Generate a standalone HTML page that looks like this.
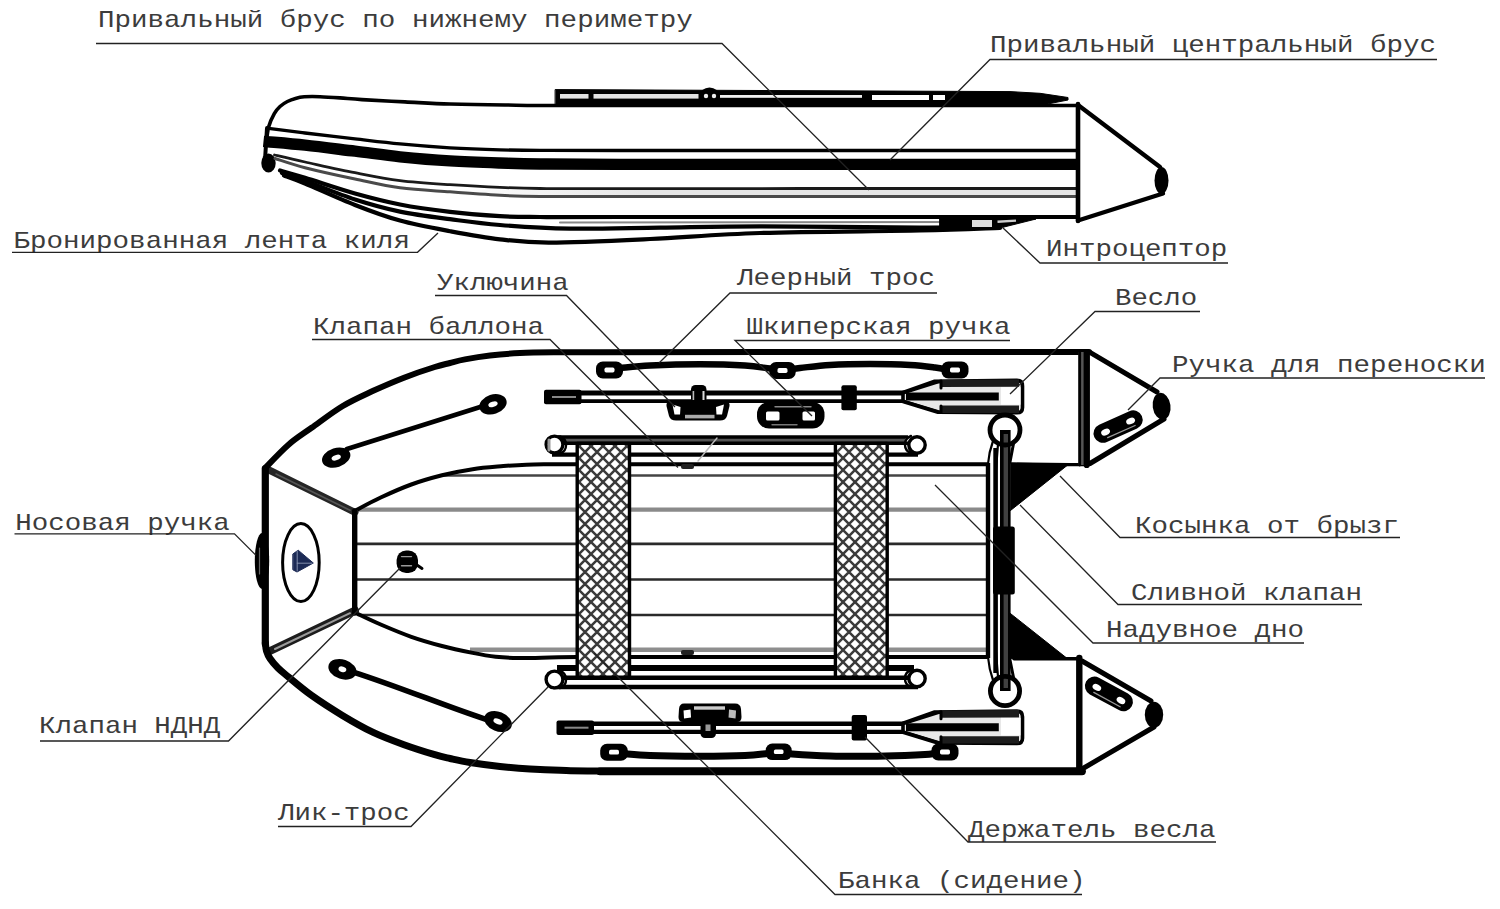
<!DOCTYPE html>
<html lang="ru"><head><meta charset="utf-8"><title>Схема лодки</title>
<style>
html,body{margin:0;padding:0;background:#fff;}
body{width:1500px;height:909px;overflow:hidden;}
svg{display:block;}
</style></head><body>
<svg width="1500" height="909" viewBox="0 0 1500 909">
<defs>
<pattern id="hatch" width="12" height="12" patternUnits="userSpaceOnUse" x="579" y="446">
<rect width="12" height="12" fill="#fff"/>
<path d="M-1,-1 L13,13 M13,-1 L-1,13" stroke="#3a3a3a" stroke-width="2.5" fill="none"/>
</pattern>
<linearGradient id="abfill" gradientUnits="userSpaceOnUse" x1="450" y1="0" x2="640" y2="0"><stop offset="0" stop-color="#fff"/><stop offset="1" stop-color="#e6e6e6"/></linearGradient>
</defs>
<rect width="1500" height="909" fill="#fff"/>
<g id="sideview" fill="none" stroke="#000" stroke-linecap="round" stroke-linejoin="round">
<path d="M266.0,145.0 C266.4,142.0 267.3,132.0 268.7,126.8 C270.1,121.6 272.4,117.1 274.3,113.7 C276.2,110.3 277.8,108.5 280.0,106.5 C282.2,104.5 284.8,102.8 287.4,101.5 C290.0,100.2 292.7,99.2 295.5,98.4 C298.3,97.6 300.2,97.1 304.3,96.8 C308.4,96.5 314.1,96.5 320.0,96.7 C325.9,96.9 333.0,97.4 340.0,97.9 C347.0,98.4 351.2,98.9 362.0,99.6 C372.8,100.3 390.3,101.2 405.0,101.9 C419.7,102.6 433.3,103.5 450.0,104.0 C466.7,104.5 486.7,104.8 505.0,105.0 C523.3,105.2 510.8,105.4 560.0,105.5 C609.2,105.6 713.7,105.5 800.0,105.5 C886.3,105.5 1031.7,105.5 1078.0,105.5" stroke="#000" stroke-width="3.6" stroke-linecap="round"/>
<path d="M270.5,128.7 C276.2,129.4 290.9,131.3 305.0,133.0 C319.1,134.7 339.2,137.1 355.0,138.9 C370.8,140.7 384.2,142.4 400.0,143.9 C415.8,145.4 433.3,146.8 450.0,147.8 C466.7,148.8 485.0,149.4 500.0,149.8 C515.0,150.2 520.0,150.3 540.0,150.4 C560.0,150.5 576.7,150.5 620.0,150.5 C663.3,150.5 723.7,150.5 800.0,150.5 C876.3,150.5 1031.7,150.5 1078.0,150.5" stroke="#000" stroke-width="3.3" stroke-linecap="round"/>
<path d="M263.5,141.3 C270.4,142.0 289.8,143.5 305.0,145.2 C320.2,146.8 339.2,149.3 355.0,151.2 C370.8,153.1 384.2,155.2 400.0,156.8 C415.8,158.4 433.3,159.9 450.0,160.9 C466.7,161.9 485.0,162.5 500.0,163.0 C515.0,163.5 520.0,163.8 540.0,164.0 C560.0,164.2 576.7,164.3 620.0,164.4 C663.3,164.5 723.7,164.4 800.0,164.4 C876.3,164.4 1031.7,164.4 1078.0,164.4" stroke="#000" stroke-width="11.4" stroke-linecap="butt"/>
<ellipse cx="268.5" cy="163" rx="7.2" ry="9.5" fill="#000" stroke="none"/>
<path d="M267,128 L265,160" stroke-width="4"/>
<rect x="450" y="189.5" width="628" height="6.5" fill="url(#abfill)" stroke="none"/>
<path d="M274.5,155.0 C279.6,156.2 291.6,159.1 305.0,162.0 C318.4,164.9 339.2,169.6 355.0,172.7 C370.8,175.8 384.2,178.6 400.0,180.6 C415.8,182.6 433.3,183.6 450.0,184.7 C466.7,185.8 485.0,186.8 500.0,187.4 C515.0,188.0 520.0,188.3 540.0,188.5 C560.0,188.7 576.7,188.7 620.0,188.7 C663.3,188.7 723.7,188.5 800.0,188.5 C876.3,188.5 1031.7,188.5 1078.0,188.5" stroke="#1a1a1a" stroke-width="2.8" stroke-linecap="round"/>
<path d="M275.0,158.5 C280.0,160.0 291.7,164.3 305.0,167.7 C318.3,171.1 339.2,175.7 355.0,179.0 C370.8,182.3 384.2,185.7 400.0,187.8 C415.8,189.9 433.3,190.6 450.0,191.8 C466.7,193.1 485.0,194.5 500.0,195.3 C515.0,196.1 520.0,196.2 540.0,196.4 C560.0,196.6 576.7,196.5 620.0,196.5 C663.3,196.5 723.7,196.6 800.0,196.6 C876.3,196.6 1031.7,196.6 1078.0,196.6" stroke="#4a4a4a" stroke-width="3" stroke-linecap="round"/>
<path d="M280.0,170.5 C284.2,171.7 292.5,174.0 305.0,177.8 C317.5,181.6 339.2,189.1 355.0,193.5 C370.8,197.9 384.2,201.4 400.0,204.5 C415.8,207.6 433.3,209.9 450.0,211.8 C466.7,213.8 485.0,215.3 500.0,216.2 C515.0,217.1 520.0,216.9 540.0,217.0 C560.0,217.1 576.7,217.0 620.0,217.0 C663.3,217.0 723.7,217.0 800.0,217.0 C876.3,217.0 1031.7,217.0 1078.0,217.0" stroke="#000" stroke-width="4.2" stroke-linecap="round"/>
<path d="M560,222.5 L970,222" stroke="#888" stroke-width="2"/>
<path d="M282.0,173.0 C285.8,174.3 292.8,176.4 305.0,180.8 C317.2,185.2 339.2,194.4 355.0,199.5 C370.8,204.6 384.2,208.3 400.0,211.6 C415.8,214.9 433.3,217.0 450.0,219.2 C466.7,221.4 480.0,223.4 500.0,225.0 C520.0,226.6 543.3,228.2 570.0,228.6 C596.7,229.0 628.3,228.0 660.0,227.6 C691.7,227.2 716.7,226.3 760.0,226.3 C803.3,226.3 880.0,227.4 920.0,227.5 C960.0,227.6 986.7,227.1 1000.0,227.0" stroke="#000" stroke-width="4.2" stroke-linecap="round"/>
<path d="M284.0,175.5 C287.5,176.8 293.2,178.6 305.0,183.5 C316.8,188.4 339.2,198.8 355.0,205.0 C370.8,211.2 384.2,216.2 400.0,220.6 C415.8,225.0 433.3,228.1 450.0,231.2 C466.7,234.3 483.3,237.4 500.0,239.3 C516.7,241.2 525.0,242.7 550.0,242.6 C575.0,242.5 615.0,240.6 650.0,239.0 C685.0,237.4 715.0,234.4 760.0,233.0 C805.0,231.6 880.0,231.3 920.0,230.5 C960.0,229.7 986.7,228.4 1000.0,228.0" stroke="#000" stroke-width="4.2" stroke-linecap="round"/>
<path d="M940,219 L1036,219 L1000,228 L940,231 Z" fill="#000" stroke-width="1"/>
<rect x="972" y="220" width="20" height="7" fill="#ddd" stroke="none"/>
<path d="M997.5,221.8 L1016,220.6" stroke="#ccc" stroke-width="2.4" stroke-linecap="butt"/>
<path d="M1078,104 L1078,221" stroke-width="4.6"/>
<path d="M1078,105 L1160,167 M1078,220.5 L1163,193.5" stroke-width="4.4"/>
<ellipse cx="1161.5" cy="180.5" rx="7" ry="13.5" fill="#000" stroke="none"/>
<path d="M555.5,89.6 L1010,91.6 L1040,93.3 L1068,97.5 L1068,100 L1045,104.5 L555.5,104.5 Z" fill="#000" stroke-width="1"/>
<rect x="560" y="94" width="28.5" height="4.6" fill="#e2e2e2" stroke="none"/>
<rect x="593.5" y="94" width="105" height="4.6" fill="#e2e2e2" stroke="none"/>
<rect x="720" y="95" width="142" height="2.8" fill="#f0f0f0" stroke="none"/>
<rect x="872" y="95" width="57" height="5" fill="#fff" stroke="none"/>
<rect x="933" y="95" width="12" height="5" fill="#fff" stroke="none"/>
<ellipse cx="709.5" cy="96" rx="10" ry="8.6" fill="#000" stroke="none"/>
<circle cx="706" cy="96" r="2.2" fill="#eee" stroke="none"/><circle cx="714" cy="96" r="2.2" fill="#eee" stroke="none"/>
</g>
<g id="topview" fill="none" stroke="#000" stroke-linecap="round" stroke-linejoin="round">
<path d="M444,475.5 L988,475.5" stroke="#444" stroke-width="2.4"/>
<path d="M358,509.6 L988,509.6" stroke="#8a8a8a" stroke-width="4.4" stroke-linecap="butt"/>
<path d="M356,543.9 L988,543.9 M356,579.5 L988,579.5 M358,615 L988,615" stroke="#2a2a2a" stroke-width="2.6"/>
<path d="M470,649.8 L988,649.8" stroke="#8e8e8e" stroke-width="4.6" stroke-linecap="butt"/>
<path d="M355.5,510.5 C359.7,508.3 371.4,501.8 380.7,497.5 C390.0,493.2 401.1,488.2 411.3,484.5 C421.5,480.8 431.8,477.9 442.0,475.3 C452.2,472.8 462.5,470.7 472.7,469.2 C482.9,467.7 494.4,466.9 503.4,466.1 C512.4,465.4 518.7,465.0 526.4,464.7 C534.1,464.4 541.0,464.4 549.4,464.3 C557.8,464.2 572.4,464.3 577.0,464.3 L987,464.3" stroke-width="4"/>
<path d="M355.5,612.8 C359.7,614.8 371.4,620.5 380.7,624.5 C390.0,628.5 401.1,633.2 411.3,636.8 C421.5,640.4 431.8,643.3 442.0,646.0 C452.2,648.7 463.8,651.1 472.7,652.9 C481.6,654.7 488.0,655.9 495.7,656.8 C503.4,657.6 509.8,657.9 518.7,658.0 C527.7,658.1 539.7,657.7 549.4,657.5 C559.1,657.3 572.4,657.1 577.0,657.0 L987,657" stroke-width="4"/>
<path d="M269,470 L355,512.3" stroke="#262626" stroke-width="7"/>
<path d="M269,651.5 L355,610.5" stroke="#1c1c1c" stroke-width="8"/>
<path d="M275,649 L350,613.2" stroke="#9a9a9a" stroke-width="2"/>
<path d="M276,474 L350,510.3" stroke="#555" stroke-width="1.6"/>
<path d="M354.7,511 L354.7,613" stroke-width="5.4"/>
<ellipse cx="300.9" cy="562.6" rx="18.3" ry="39" stroke-width="3"/>
<path d="M293.1,553.8 L298.2,550.2 L313.3,563 L297,572 L293.1,569.9 Z" fill="#1c2a55" stroke="#1c2a55" stroke-width="1"/>
<path d="M297.2,551 L297.2,571 M297.2,563.2 L312,563.2" stroke="#8d97b5" stroke-width="0.9"/>
<ellipse cx="262" cy="561" rx="7.2" ry="28" fill="#000" stroke="none"/>
<path d="M259.5,548 L259.5,574" stroke="#666" stroke-width="1.2"/>
<path d="M1089.0,352.0 C1040.8,352.0 881.5,352.0 800.0,352.0 C718.5,352.0 640.0,352.1 600.0,352.2 C560.0,352.2 573.3,352.2 560.0,352.3 C546.7,352.4 531.7,352.4 520.0,353.0 C508.3,353.6 499.2,354.5 490.0,355.6 C480.8,356.7 471.7,358.2 465.0,359.4 C458.3,360.6 455.0,361.7 450.0,363.0 C445.0,364.3 442.5,364.6 434.8,367.0 C427.1,369.4 414.3,373.7 404.0,377.7 C393.7,381.7 383.5,386.1 373.2,390.8 C362.9,395.6 352.7,400.0 342.4,406.2 C332.1,412.4 320.6,421.4 311.6,427.8 C302.6,434.2 296.2,438.0 288.5,444.7 C280.8,451.4 269.2,463.9 265.4,467.8" stroke-width="6"/>
<path d="M265.4,643.0 C265.6,644.3 265.7,648.4 266.5,651.0 C267.3,653.6 268.1,655.7 270.0,658.5 C271.9,661.3 274.9,664.9 278.0,668.0 C281.1,671.1 282.9,672.4 288.5,677.0 C294.1,681.6 302.6,689.0 311.6,695.4 C320.6,701.8 332.1,709.2 342.4,715.4 C352.7,721.6 362.9,727.5 373.2,732.4 C383.5,737.3 393.7,741.0 404.0,744.7 C414.3,748.4 427.1,752.4 434.8,754.7 C442.5,757.0 444.1,757.2 450.0,758.5 C455.9,759.8 461.7,761.2 470.0,762.5 C478.3,763.8 490.0,765.4 500.0,766.5 C510.0,767.6 520.0,768.4 530.0,769.0 C540.0,769.6 548.3,770.0 560.0,770.3 C571.7,770.6 560.0,770.9 600.0,771.0 C640.0,771.1 720.0,771.0 800.0,771.0 C880.0,771.0 1033.3,771.0 1080.0,771.0" stroke-width="7"/>
<path d="M265.3,468.5 L265.3,644" stroke-width="7.2"/>
<path d="M600,771.3 L1082,771.3" stroke-width="7.8" stroke-linecap="round"/>
<path d="M347,449 L481,406.8" stroke-width="4.8"/>
<g transform="translate(336.2,457.6) rotate(-18)"><ellipse rx="14.6" ry="9.6" fill="#000" stroke="none"/><ellipse rx="4.8" ry="2.6" fill="#fff" stroke="none"/></g>
<g transform="translate(493,404.3) rotate(-18)"><ellipse rx="14" ry="9.8" fill="#000" stroke="none"/><ellipse rx="4.8" ry="2.6" fill="#fff" stroke="none"/></g>
<path d="M354,672.3 C400,687 450,708 488,720" stroke-width="5.6"/>
<g transform="translate(342.4,669.3) rotate(18)"><ellipse rx="14.4" ry="9.8" fill="#000" stroke="none"/><ellipse rx="4" ry="2.8" fill="#fff" stroke="none"/></g>
<g transform="translate(498,721.5) rotate(22)"><ellipse rx="14.4" ry="9.8" fill="#000" stroke="none"/><ellipse rx="4.8" ry="2.6" fill="#fff" stroke="none"/></g>
<path d="M620.0,368.0 C625.0,367.6 636.7,366.1 650.0,365.5 C663.3,364.9 684.2,364.3 700.0,364.3 C715.8,364.3 733.3,364.8 745.0,365.5 C756.7,366.2 763.7,367.8 770.0,368.5 C776.3,369.2 778.0,370.1 783.0,370.0 C788.0,369.9 792.2,368.8 800.0,368.0 C807.8,367.2 818.3,365.7 830.0,365.0 C841.7,364.3 856.7,364.0 870.0,364.0 C883.3,364.0 899.2,364.4 910.0,365.0 C920.8,365.6 928.7,366.7 935.0,367.5 C941.3,368.3 945.8,369.6 948.0,370.0" stroke-width="6.4"/>
<g transform="translate(609.5,370) rotate(0)"><rect x="-13.5" y="-8.5" width="27.0" height="17.0" rx="6.800000000000001" fill="#000" stroke="none"/><rect x="-5" y="-2.4" width="10" height="4.8" rx="1.68" fill="#fff" stroke="none"/></g>
<g transform="translate(782.5,370.5) rotate(0)"><rect x="-13.2" y="-8.5" width="26.4" height="17.0" rx="6.800000000000001" fill="#000" stroke="none"/><rect x="-5" y="-2.4" width="10" height="4.8" rx="1.68" fill="#fff" stroke="none"/></g>
<g transform="translate(955,370) rotate(0)"><rect x="-13.5" y="-8.5" width="27.0" height="17.0" rx="6.800000000000001" fill="#000" stroke="none"/><rect x="-5" y="-2.4" width="10" height="4.8" rx="1.68" fill="#fff" stroke="none"/></g>
<path d="M622.0,753.5 C626.7,753.8 637.0,755.0 650.0,755.5 C663.0,756.0 684.2,756.2 700.0,756.2 C715.8,756.2 733.7,756.0 745.0,755.5 C756.3,755.0 762.3,754.0 768.0,753.5 C773.7,753.0 775.0,752.4 779.0,752.5 C783.0,752.6 783.5,753.4 792.0,754.0 C800.5,754.6 817.0,755.6 830.0,756.0 C843.0,756.4 857.5,756.4 870.0,756.3 C882.5,756.2 895.8,755.8 905.0,755.5 C914.2,755.2 919.5,754.9 925.0,754.5 C930.5,754.1 935.8,753.2 938.0,753.0" stroke-width="7"/>
<g transform="translate(614,752.2) rotate(0)"><rect x="-13.8" y="-8.5" width="27.6" height="17.0" rx="6.800000000000001" fill="#000" stroke="none"/><rect x="-5" y="-2.4" width="10" height="4.8" rx="1.68" fill="#fff" stroke="none"/></g>
<g transform="translate(778.7,751.8) rotate(0)"><rect x="-13" y="-8.3" width="26" height="16.6" rx="6.640000000000001" fill="#000" stroke="none"/><rect x="-4.8" y="-2.3" width="9.6" height="4.6" rx="1.6099999999999999" fill="#fff" stroke="none"/></g>
<g transform="translate(945,752) rotate(0)"><rect x="-13.5" y="-8.5" width="27.0" height="17.0" rx="6.800000000000001" fill="#000" stroke="none"/><rect x="-5" y="-2.4" width="10" height="4.8" rx="1.68" fill="#fff" stroke="none"/></g>
<rect x="574" y="391.8" width="331" height="10.5" fill="#fff" stroke="none"/>
<path d="M574,393 L905,393" stroke-width="4.8" stroke-linecap="butt"/>
<path d="M574,401.2 L905,401.2" stroke-width="3.8" stroke-linecap="butt"/>
<rect x="544" y="389.8" width="37.5" height="14.5" rx="2" fill="#000" stroke="none"/>
<rect x="552" y="396" width="24" height="2" fill="#888" stroke="none"/>
<path d="M903,392.5 L934,381.4 L1017,380.4 Q1022.5,380.4 1022.5,386 L1022.5,407.5 Q1022.5,412.8 1017,412.8 L938,412.3 L903,401.5 Z" fill="#e8e8e8" stroke="#000" stroke-width="3.6"/>
<path d="M941,383.4 L1019,383.1" stroke="#1c1c1c" stroke-width="7.4" stroke-linecap="butt"/>
<path d="M941,409.2 L1019,409.2" stroke="#1c1c1c" stroke-width="7.4" stroke-linecap="butt"/>
<path d="M906,396.5 L998.8,396.5" stroke-width="8" stroke-linecap="butt"/>
<path d="M903,393 L941,381 L941,388 M903,401 L941,412.5 L941,406" stroke-width="3"/>
<rect x="1001" y="387.2" width="19.5" height="17.5" fill="#fff" stroke="none"/>
<rect x="586.5" y="722.5" width="318.5" height="10.5" fill="#fff" stroke="none"/>
<path d="M586.5,723.7 L905,723.7" stroke-width="4.4" stroke-linecap="butt"/>
<path d="M586.5,731.9000000000001 L905,731.9000000000001" stroke-width="4.4" stroke-linecap="butt"/>
<rect x="556.5" y="720.5" width="37.5" height="14.5" rx="2" fill="#000" stroke="none"/>
<rect x="564.5" y="726.7" width="24" height="2" fill="#888" stroke="none"/>
<path d="M903,723.2 L934,712.1 L1017,711.1 Q1022.5,711.1 1022.5,716.7 L1022.5,738.2 Q1022.5,743.5 1017,743.5 L938,743.0 L903,732.2 Z" fill="#e8e8e8" stroke="#000" stroke-width="3.6"/>
<path d="M941,714.1 L1019,713.8000000000001" stroke="#1c1c1c" stroke-width="7.4" stroke-linecap="butt"/>
<path d="M941,739.9000000000001 L1019,739.9000000000001" stroke="#1c1c1c" stroke-width="7.4" stroke-linecap="butt"/>
<path d="M906,727.2 L998.8,727.2" stroke-width="8" stroke-linecap="butt"/>
<path d="M903,723.7 L941,711.7 L941,718.7 M903,731.7 L941,743.2 L941,736.7" stroke-width="3"/>
<rect x="1001" y="717.9000000000001" width="19.5" height="17.5" fill="#fff" stroke="none"/>
<rect x="841.4" y="385.3" width="15.4" height="25" rx="2" fill="#000" stroke="none"/>
<rect x="851.7" y="715" width="15.3" height="25.6" rx="2" fill="#000" stroke="none"/>
<path d="M670,401.5 L726,401.5 Q730,401.5 729.5,406 L727,416 Q725.5,420.5 720,420.5 L676,420.5 Q670.5,420.5 669,416 L666.5,406 Q666,401.5 670,401.5 Z" fill="#000" stroke="none"/>
<rect x="685" y="414.8" width="29.5" height="3.6" fill="#aaa" stroke="none"/>
<path d="M672.5,404.5 L680.5,407 L680,414.5 L674.5,414.5 Z" fill="#fff" stroke="none"/>
<path d="M724,404.5 L716,407 L716.5,414.5 L722,414.5 Z" fill="#fff" stroke="none"/>
<rect x="691" y="385" width="15.5" height="18" rx="4.5" fill="#000" stroke="none"/>
<rect x="692.6" y="391" width="1.6" height="9" fill="#bbb" stroke="none"/>
<rect x="702.5" y="391" width="2" height="9" fill="#ddd" stroke="none"/>
<path d="M684,703.5 L735,703.5 Q740.5,703.5 741,709 L741.5,717 Q741.5,722 737,722 L683,722 Q678.5,722 678.5,717 L679,709 Q679.5,703.5 684,703.5 Z" fill="#000" stroke="none"/>
<rect x="694" y="706.3" width="31" height="3.4" fill="#ccc" stroke="none"/>
<path d="M683.5,710.5 L690.5,709.5 L691,717.5 L684,718.5 Z" fill="#fff" stroke="none"/>
<path d="M736,710.5 L729,709.5 L728.5,717.5 L735.5,718.5 Z" fill="#bbb" stroke="none"/>
<rect x="700.5" y="720" width="15.5" height="18" rx="4.5" fill="#000" stroke="none"/>
<rect x="705.5" y="724.5" width="5" height="6.5" fill="#999" stroke="none"/>
<rect x="757" y="402" width="67.5" height="26.5" rx="12" fill="#000" stroke="none"/>
<rect x="766" y="411.5" width="13.5" height="9" rx="1.5" fill="#fff" stroke="none"/>
<rect x="802.5" y="411.5" width="12.5" height="9" rx="1.5" fill="#fff" stroke="none"/>
<path d="M775,406.7 L811,406.7" stroke="#888" stroke-width="1.4"/>
<path d="M772,424.8 L797,424.8" stroke="#777" stroke-width="1.4"/>
<rect x="560" y="437" width="345" height="7" fill="#555" stroke="none"/>
<path d="M558,437 L908,437" stroke-width="3.6" stroke-linecap="butt"/>
<rect x="556" y="444" width="360" height="11" fill="#fff" stroke="none"/>
<path d="M560,443.3 L910,443.3" stroke-width="3.4" stroke-linecap="butt"/>
<path d="M552,454.6 L918,454.6" stroke-width="4.2" stroke-linecap="butt"/>
<circle cx="554.5" cy="444.5" r="8.4" fill="#fff" stroke-width="3.4"/>
<path d="M560,436.5 A9,9 0 0 1 560,453.5" stroke-width="2.4"/>
<path d="M549,440 L549,450" stroke="#999" stroke-width="3"/>
<circle cx="917" cy="445" r="8.2" fill="#fff" stroke-width="3.4"/>
<path d="M911,436 A9,9 0 0 0 911,453" stroke-width="2.4"/>
<path d="M557,668 L914,668" stroke-width="6" stroke-linecap="butt"/>
<path d="M560,677.7 L912,677.7" stroke-width="4.4" stroke-linecap="butt"/>
<path d="M553,687 L918,687" stroke-width="4.6" stroke-linecap="butt"/>
<circle cx="554.5" cy="679.5" r="8.4" fill="#fff" stroke-width="3.4"/>
<path d="M560,671 A9,9 0 0 1 560,688" stroke-width="2.4"/>
<circle cx="917" cy="678.5" r="8.2" fill="#fff" stroke-width="3.4"/>
<path d="M911,670 A9,9 0 0 0 911,687" stroke-width="2.4"/>
<path d="M717,438 L698,461" stroke="#bbb" stroke-width="1.4"/>
<rect x="681" y="464" width="13" height="5" rx="2" fill="#222" stroke="none"/>
<rect x="681" y="650" width="13" height="5" rx="2" fill="#222" stroke="none"/>
<rect x="577.2" y="443.4" width="52.3" height="233.8" fill="url(#hatch)" stroke="#000" stroke-width="3.4"/>
<rect x="835.4" y="443.4" width="51.8" height="233.8" fill="url(#hatch)" stroke="#000" stroke-width="3.4"/>
<rect x="396.6" y="550.5" width="21.4" height="22.5" rx="9.5" fill="#000" stroke="none"/>
<path d="M401.5,556.6 L411.5,556.6 M401.5,565.8 L411.5,565.8" stroke="#999" stroke-width="1.4"/>
<path d="M414,563 L422,568.5" stroke-width="3"/>
<path d="M988,463 L988,658" stroke-width="4.4" stroke-linecap="butt"/>
<path d="M995.6,448 L995.6,673" stroke-width="4.6" stroke-linecap="butt"/>
<path d="M993,441 Q989,452 988,464 M998,444 L996,470 M993,680 Q989,669 988,657 M998,677 L996,652" stroke-width="2.2"/>
<path d="M1014,441 L1010,462 M1014,680 L1010,660" stroke-width="3"/>
<rect x="1000" y="430" width="10.6" height="261" fill="#000" stroke="none"/>
<rect x="1003.6" y="434" width="4.4" height="254" fill="#404040" stroke="none"/>
<rect x="993" y="526.4" width="21.8" height="68" rx="2.5" fill="#000" stroke="none"/>
<circle cx="1005" cy="430" r="15" stroke-width="4.8"/>
<circle cx="1005" cy="691" r="14.6" stroke-width="4.8"/>
<path d="M1010.5,462.8 L1069.6,463.5 L1010.5,510.5 Z" fill="#000" stroke-width="1"/>
<path d="M1010,613.2 L1067,658.3 L1010,658.7 Z" fill="#000" stroke-width="1"/>
<path d="M1016,464.6 L1089,464.6" stroke-width="3.4"/>
<path d="M1014,658.8 L1080,658.8" stroke-width="3.4"/>
<rect x="1078.5" y="352" width="11.5" height="113" fill="#555" stroke="none"/>
<path d="M1079.7,352 L1079.7,465" stroke-width="2.8"/>
<path d="M1086.7,352 L1086.7,465" stroke-width="6.2"/>
<path d="M1090,352.3 L1157,392 M1090,463.5 L1164,419" stroke-width="5"/>
<ellipse cx="1161.6" cy="406.2" rx="8.9" ry="13.4" fill="#000" stroke="none" transform="rotate(-8 1161.6 406.2)"/>
<path d="M1079.3,658 L1079.3,771" stroke-width="6.4"/>
<path d="M1082,661 L1151,701 M1082,769 L1154,727" stroke-width="5"/>
<ellipse cx="1154" cy="714.7" rx="9.2" ry="13" fill="#000" stroke="none"/>
<g transform="translate(1118.1,426.6) rotate(-24)"><rect x="-26.0" y="-9.5" width="52" height="19" rx="9.5" fill="#000" stroke="none"/><ellipse cx="-13.7" cy="0" rx="4.6" ry="3.1" fill="#fff" stroke="none"/><ellipse cx="13.7" cy="0" rx="4.6" ry="3.1" fill="#fff" stroke="none"/><path d="M-14.0,5.9 L16.0,5.9" stroke="#999" stroke-width="1.3" fill="none"/></g>
<g transform="translate(1108.9,693.9) rotate(28.5)"><rect x="-26.0" y="-9.5" width="52" height="19" rx="9.5" fill="#000" stroke="none"/><ellipse cx="-13.7" cy="0" rx="4.6" ry="3.1" fill="#fff" stroke="none"/><ellipse cx="13.7" cy="0" rx="4.6" ry="3.1" fill="#fff" stroke="none"/><path d="M-14.0,5.9 L16.0,5.9" stroke="#999" stroke-width="1.3" fill="none"/></g>
</g>
<g id="labels" font-family="'Liberation Mono', 'DejaVu Sans Mono', monospace" font-size="23.6" fill="#3c3c3c">
<text x="98" y="27" textLength="594.8" lengthAdjust="spacingAndGlyphs">Привальный брус по нижнему периметру</text>
<polyline points="96,43.5 722,43.5 869,190" fill="none" stroke="#222" stroke-width="1.3"/>
<text x="990" y="52" textLength="446.0" lengthAdjust="spacingAndGlyphs">Привальный центральный брус</text>
<polyline points="1437,59.5 990,59.5 890,160" fill="none" stroke="#222" stroke-width="1.3"/>
<text x="13.5" y="248" textLength="396.4" lengthAdjust="spacingAndGlyphs">Бронированная лента киля</text>
<polyline points="12,252.3 417.5,252.3 438,233" fill="none" stroke="#222" stroke-width="1.3"/>
<text x="1046" y="256" textLength="181.3" lengthAdjust="spacingAndGlyphs">Интроцептор</text>
<polyline points="1228,263 1040,263 1002,227" fill="none" stroke="#222" stroke-width="1.3"/>
<text x="437" y="290" textLength="131.7" lengthAdjust="spacingAndGlyphs">Уключина</text>
<polyline points="435,295.5 566.5,295.5 675,407" fill="none" stroke="#222" stroke-width="1.3"/>
<text x="737" y="285" textLength="197.9" lengthAdjust="spacingAndGlyphs">Леерный трос</text>
<polyline points="937,293 730,293 659,363" fill="none" stroke="#222" stroke-width="1.3"/>
<text x="313" y="334" textLength="231.0" lengthAdjust="spacingAndGlyphs">Клапан баллона</text>
<polyline points="312,339.5 550,339.5 678,467.5" fill="none" stroke="#222" stroke-width="1.3"/>
<text x="746.5" y="334" textLength="264.0" lengthAdjust="spacingAndGlyphs">Шкиперская ручка</text>
<polyline points="1010,340.5 735,340.5 812,416" fill="none" stroke="#222" stroke-width="1.3"/>
<text x="1115" y="305" textLength="82.1" lengthAdjust="spacingAndGlyphs">Весло</text>
<polyline points="1200,311.5 1095,311.5 1010,394" fill="none" stroke="#222" stroke-width="1.3"/>
<text x="1172" y="372" textLength="313.7" lengthAdjust="spacingAndGlyphs">Ручка для переноски</text>
<polyline points="1485,378 1160,378 1128,410" fill="none" stroke="#222" stroke-width="1.3"/>
<text x="1135" y="533" textLength="264.0" lengthAdjust="spacingAndGlyphs">Косынка от брызг</text>
<polyline points="1400,537.5 1120,537.5 1060,476" fill="none" stroke="#222" stroke-width="1.3"/>
<text x="1131" y="600" textLength="231.0" lengthAdjust="spacingAndGlyphs">Сливной клапан</text>
<polyline points="1362,604.5 1118,604.5 1020,505" fill="none" stroke="#222" stroke-width="1.3"/>
<text x="1106" y="637" textLength="197.9" lengthAdjust="spacingAndGlyphs">Надувное дно</text>
<polyline points="1304,643 1093,643 935,485" fill="none" stroke="#222" stroke-width="1.3"/>
<text x="15.3" y="530" textLength="214.4" lengthAdjust="spacingAndGlyphs">Носовая ручка</text>
<polyline points="14.5,533.8 234.5,533.8 256,555.3" fill="none" stroke="#222" stroke-width="1.3"/>
<text x="39" y="733" textLength="181.3" lengthAdjust="spacingAndGlyphs">Клапан НДНД</text>
<polyline points="40,741 228.5,741 400,568" fill="none" stroke="#222" stroke-width="1.3"/>
<text x="278" y="820" textLength="131.7" lengthAdjust="spacingAndGlyphs">Лик-трос</text>
<polyline points="278,826.5 411,826.5 548,687" fill="none" stroke="#222" stroke-width="1.3"/>
<text x="968" y="837" textLength="247.5" lengthAdjust="spacingAndGlyphs">Держатель весла</text>
<polyline points="1216,842 968,842 865,737" fill="none" stroke="#222" stroke-width="1.3"/>
<text x="838" y="888" textLength="247.5" lengthAdjust="spacingAndGlyphs">Банка (сидение)</text>
<polyline points="1082,894.5 835,894.5 594,653" fill="none" stroke="#222" stroke-width="1.3"/>
</g>
</svg>
</body></html>
